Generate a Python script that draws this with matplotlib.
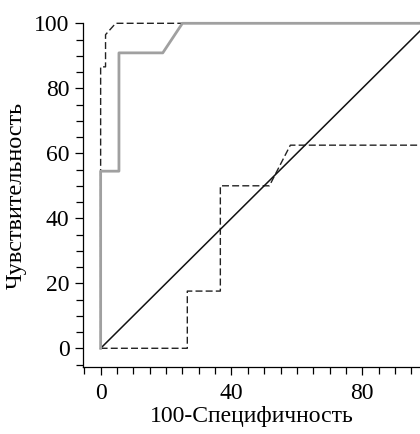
import matplotlib
matplotlib.use("Agg")
import matplotlib.pyplot as plt
from matplotlib.ticker import MultipleLocator

plt.rcParams['font.family'] = ['Liberation Serif', 'DejaVu Serif']

# ROC curve data (100-Specificity, Sensitivity)
gray_x = [0, 0, 5.6, 5.6, 19, 25, 100]
gray_y = [0, 54.5, 54.5, 90.9, 90.9, 100, 100]

dash1_x = [0, 0, 1.5, 1.5, 4.6, 100]
dash1_y = [0, 86.6, 86.6, 96.5, 100, 100]

dash2_x = [0, 26.5, 26.5, 36.6, 36.6, 51.6, 58, 100]
dash2_y = [0, 0, 17.6, 17.6, 50, 50, 62.5, 62.5]

diag_x = [0, 100]
diag_y = [0, 100]

x_ticks = [0, 40, 80]
y_ticks = [0, 20, 40, 60, 80, 100]

fig = plt.figure(figsize=(4.2, 4.34), dpi=100)
ax = fig.add_axes([83.3/420, (434-367.3)/434, 1 - 83.3/420, (367.3-23.3)/434])

ax.plot(dash1_x, dash1_y, color='#222222', lw=1.0, dashes=(5, 2.3), clip_on=False)
ax.plot(dash2_x, dash2_y, color='#222222', lw=1.0, dashes=(5, 2.3), clip_on=False)
ax.plot(diag_x, diag_y, color='#111111', lw=1.1, clip_on=False)
ax.plot(gray_x, gray_y, color='#a0a0a0', lw=2.0, clip_on=False)

ax.set_xlim(-5.3, (420 - 100.7) / 3.27)
ax.set_ylim(-5.85, 100)

ax.spines['top'].set_visible(False)
ax.spines['right'].set_visible(False)
for s in ('left', 'bottom'):
    ax.spines[s].set_linewidth(0.9)

ax.set_xticks(x_ticks)
ax.set_yticks(y_ticks)
ax.xaxis.set_minor_locator(MultipleLocator(5))
ax.yaxis.set_minor_locator(MultipleLocator(5))
ax.tick_params(which='major', length=6, width=0.9, labelsize=17)
ax.tick_params(axis='x', which='major', pad=5)
ax.tick_params(axis='y', which='major', pad=4)
ax.tick_params(which='minor', length=5, width=0.9)

ax.set_xlabel('100-Специфичность', fontsize=17, labelpad=2)
ax.set_ylabel('Чувствительность', fontsize=17.5, labelpad=5)

fig.savefig('out.png', dpi=100)
